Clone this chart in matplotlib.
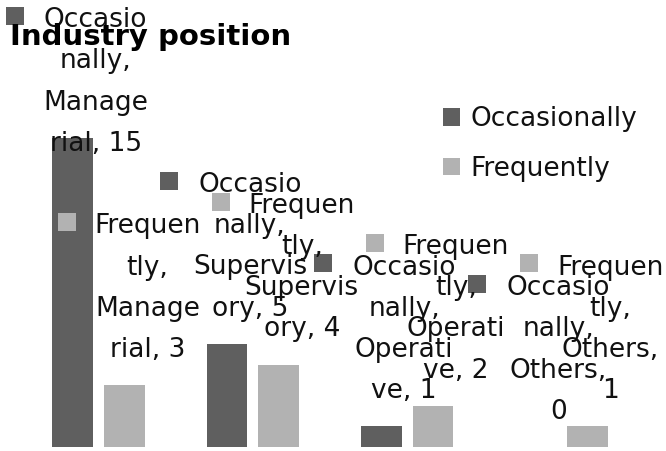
import matplotlib
matplotlib.use("Agg")
import matplotlib.pyplot as plt
import matplotlib.transforms as mtransforms
from matplotlib.patches import Patch
import numpy as np

# ---- data ----
categories = ["Managerial", "Supervisory", "Operative", "Others"]
category_wrapped = ["Manage\nrial", "Supervis\nory", "Operati\nve", "Others"]
series_names = ["Occasionally", "Frequently"]
series_wrapped = ["Occasio\nnally,", "Frequen\ntly,"]
occasionally = [15, 5, 1, 0]
frequently = [3, 4, 2, 1]
series_values = [occasionally, frequently]
title = "Industry position"

colors = ["#5f5f5f", "#b2b2b2"]
text_color = "#111111"

W, H, DPI = 666, 451, 100
fig = plt.figure(figsize=(W / DPI, H / DPI), dpi=DPI)
fig.patch.set_facecolor("white")

# axes placement in pixels
left_px, right_px, zero_px, top_px = 21.5, 638.5, 447, 117
ax = fig.add_axes([left_px / W, (H - zero_px) / H,
                   (right_px - left_px) / W, (zero_px - top_px) / H])
ax.set_xlim(-0.5, len(categories) - 0.5)
ax.set_ylim(0, 16)
ax.axis("off")

x = np.arange(len(categories))
bar_w = 0.265
offsets = [-0.168, 0.168]

for s, (vals, col) in enumerate(zip(series_values, colors)):
    ax.bar(x + offsets[s], vals, width=bar_w, color=col, edgecolor="none")

label_fs = 19
txt_dx, txt_up = 23, 97        # text block centre relative to bar top (pixels)
sq_dx, sq_up = -81, 66         # legend key relative to text centre (pixels)
min_center_from_top = 82

def make_label(s, i):
    cat = category_wrapped[i]
    val = series_values[s][i]
    head, _, last = cat.rpartition("\n")
    tail = f"{last}, {val}"
    if len(tail) > 8:
        tail = f"{last},\n{val}"
    cat_part = (head + "\n" if head else "") + tail
    return series_wrapped[s] + "\n" + cat_part

for s in range(2):
    for i in range(len(categories)):
        bx = x[i] + offsets[s]
        bh = series_values[s][i]
        px, py = ax.transData.transform((bx, bh))
        py_top = H - py
        cy_top = max(py_top - txt_up, min_center_from_top)
        dy = -(cy_top - py_top)
        ax.annotate(make_label(s, i), xy=(bx, bh), xytext=(txt_dx, dy),
                    textcoords="offset pixels", ha="center", va="center",
                    multialignment="center", fontsize=label_fs,
                    color=text_color, linespacing=1.76,
                    annotation_clip=False, family="DejaVu Sans")
        tr = mtransforms.offset_copy(ax.transData, fig=fig,
                                     x=txt_dx + sq_dx, y=dy + sq_up,
                                     units="dots")
        ax.plot([bx], [bh], marker="s", ms=12.3, color=colors[s],
                mew=0, transform=tr, clip_on=False)

fig.text(10 / W, 1 - 37 / H, title, fontsize=21, fontweight="bold",
         ha="left", va="center", color="black", family="DejaVu Sans")

handles = [Patch(facecolor=c, edgecolor="none") for c in colors]
fig.legend(handles, series_names, loc="upper left",
           bbox_to_anchor=(443 / W, 1 - 106 / H), frameon=False,
           fontsize=label_fs, handlelength=0.65, handleheight=0.65,
           handletextpad=0.38, labelspacing=0.9, borderpad=0,
           borderaxespad=0, labelcolor=text_color)

fig.savefig("out.png", dpi=DPI, facecolor="white")
